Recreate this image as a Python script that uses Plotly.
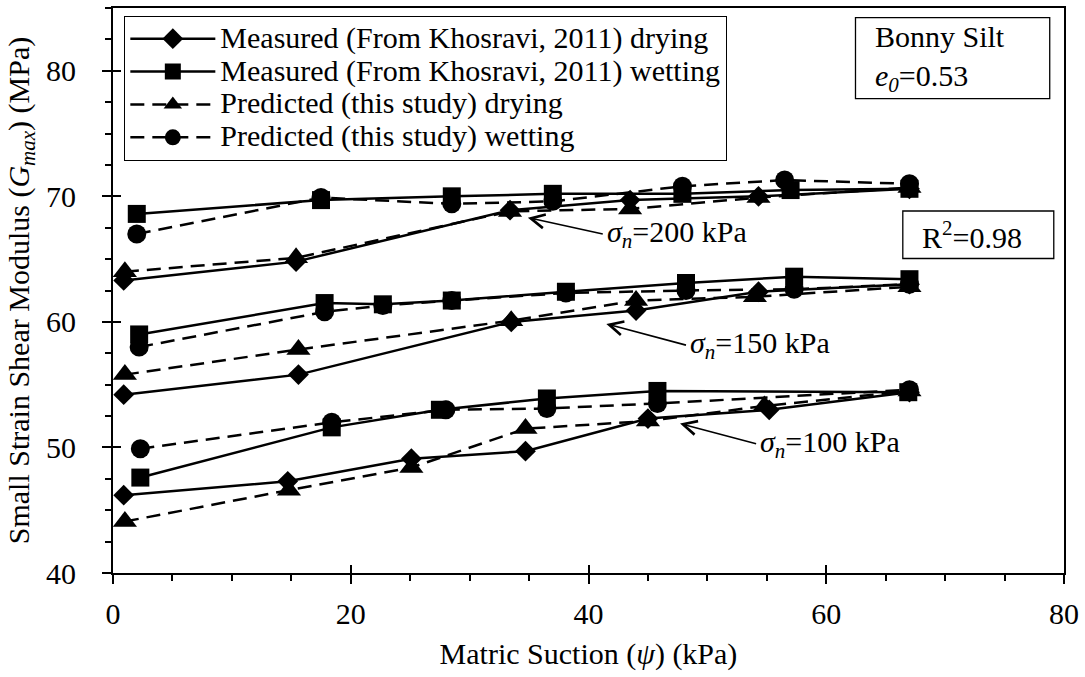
import plotly.graph_objects as go

# --- Bonny Silt, small strain shear modulus vs matric suction -----------------
# Stress levels (net normal stress, kPa)
stress_levels = [200, 150, 100]

# Measured (Khosravi, 2011) - drying
psi_md = {
    200: [0.9, 15.4, 33.4, 43.5, 54.3, 67.0],
    150: [0.9, 15.6, 33.5, 44.0, 54.3, 67.0],
    100: [0.9, 14.7, 25.1, 34.7, 45.0, 55.2, 67.0],
}
g_md = {
    200: [63.3, 64.8, 68.9, 69.7, 70.0, 70.6],
    150: [54.2, 55.8, 60.0, 60.9, 62.4, 63.0],
    100: [46.2, 47.3, 49.1, 49.7, 52.3, 53.0, 54.4],
}

# Measured (Khosravi, 2011) - wetting
psi_mw = {
    200: [2.0, 17.5, 28.5, 37.0, 47.9, 57.0, 67.0],
    150: [2.2, 17.8, 22.7, 28.5, 38.1, 48.2, 57.3, 67.0],
    100: [2.3, 18.4, 27.5, 36.5, 45.8, 66.9],
}
g_mw = {
    200: [68.6, 69.7, 70.0, 70.2, 70.2, 70.5, 70.6],
    150: [59.0, 61.5, 61.4, 61.7, 62.4, 63.1, 63.6, 63.4],
    100: [47.6, 51.6, 53.0, 53.9, 54.5, 54.4],
}

# Predicted (this study) - drying
psi_pd = {
    200: [1.0, 15.4, 33.4, 43.5, 54.3, 67.0],
    150: [1.0, 15.6, 33.5, 44.0, 54.0, 67.0],
    100: [1.0, 14.8, 25.1, 34.7, 45.0, 54.8, 67.0],
}
g_pd = {
    200: [64.0, 65.1, 68.8, 69.0, 69.9, 70.7],
    150: [55.8, 57.8, 60.1, 61.7, 62.0, 62.8],
    100: [44.1, 46.6, 48.4, 51.5, 52.1, 53.3, 54.5],
}

# Predicted (this study) - wetting
psi_pw = {
    200: [2.0, 17.5, 28.5, 37.0, 47.9, 56.5, 67.0],
    150: [2.2, 17.8, 22.7, 28.5, 38.1, 48.2, 57.3, 67.0],
    100: [2.3, 18.4, 28.0, 36.5, 45.8, 67.0],
}
g_pw = {
    200: [67.0, 69.9, 69.4, 69.6, 70.8, 71.3, 71.0],
    150: [58.0, 60.8, 61.3, 61.7, 62.3, 62.5, 62.6, 63.0],
    100: [49.9, 52.0, 53.0, 53.1, 53.5, 54.6],
}

series_names = [
    "Measured (From Khosravi, 2011) drying",
    "Measured (From Khosravi, 2011) wetting",
    "Predicted (this study) drying",
    "Predicted (this study) wetting",
]

x_ticks = [0, 20, 40, 60, 80]
y_ticks = [40, 50, 60, 70, 80]
r_squared = 0.98
void_ratio = 0.53

FONT = "Liberation Serif, Times New Roman, serif"
TXT = 30
LEGEND_TXT = 30   # glyph size of the legend labels
LEGEND_ROW = 23   # legend font size that sets the (tight) row pitch


def joined(xd, yd):
    """Concatenate the stress-level curves with gaps so each is a separate line."""
    xs, ys = [], []
    for s in stress_levels:
        if xs:
            xs.append(None)
            ys.append(None)
        xs.extend(xd[s])
        ys.extend(yd[s])
    return xs, ys


styles = [
    (psi_md, g_md, "diamond", 16, "solid"),
    (psi_mw, g_mw, "square", 18, "solid"),
    (psi_pd, g_pd, "triangle-up", 21, "14px,8px"),
    (psi_pw, g_pw, "circle", 19, "14px,8px"),
]

fig = go.Figure()
for name, (xd, yd, sym, size, dash) in zip(series_names, styles):
    xs, ys = joined(xd, yd)
    fig.add_trace(go.Scatter(
        x=xs, y=ys, mode="lines+markers",
        name=f'<span style="font-size:{LEGEND_TXT}px">{name}</span>',
        line=dict(color="black", width=2.5, dash=dash),
        marker=dict(symbol=sym, size=size, color="black"),
        connectgaps=False,
    ))

# empty trace that carries the overlay axes used for the inward half of the major ticks
fig.add_trace(go.Scatter(x=[None], y=[None], xaxis="x2", yaxis="y2",
                         showlegend=False, hoverinfo="skip"))

# stress-level labels with arrows (tip on curve, label to the right)
labels = [
    (200, 34.9, 68.3, 41.2, 67.0),
    (150, 41.5, 59.84, 48.2, 58.15),
    (100, 47.7, 51.9, 54.1, 50.3),
]
for s, xt, yt, xa, ya in labels:
    fig.add_annotation(
        x=xt, y=yt, ax=xa, ay=ya, axref="x", ayref="y",
        text=f"<i>σ</i><sub><i>n</i></sub>={s} kPa",
        xanchor="left", yanchor="middle", showarrow=True,
        arrowhead=5, arrowsize=1.7, arrowwidth=1.6, arrowcolor="black",
        standoff=0, borderpad=3,
        font=dict(family=FONT, size=TXT, color="black"),
    )

# material info box
fig.add_shape(type="rect", x0=62.46, x1=78.8, y0=77.78, y1=84.23,
              line=dict(color="black", width=1.3), fillcolor="white")
fig.add_annotation(x=63.9, y=80.95, xanchor="left", yanchor="middle", showarrow=False,
                   align="left",
                   text=f"Bonny Silt<br><i>e</i><sub><i>0</i></sub>={void_ratio}",
                   font=dict(family=FONT, size=TXT, color="black"))

# goodness-of-fit box
fig.add_shape(type="rect", x0=66.44, x1=79.14, y0=65.05, y1=68.83,
              line=dict(color="black", width=1.3), fillcolor="white")
fig.add_annotation(x=67.9, y=66.95, xanchor="left", yanchor="middle", showarrow=False,
                   text=f"R<sup>2</sup>={r_squared}",
                   font=dict(family=FONT, size=TXT, color="black"))

axis_common = dict(
    showgrid=False, zeroline=False, color="black",
    tickfont=dict(family=FONT, size=TXT, color="black"),
)

fig.update_layout(
    width=1085, height=677,
    margin=dict(l=113, r=21, t=6, b=104),
    paper_bgcolor="white", plot_bgcolor="white",
    font=dict(family=FONT, size=TXT, color="black"),
    xaxis=dict(
        **axis_common, range=[0, 80], tickvals=x_ticks,
        ticks="outside", ticklen=9, tickwidth=2, tickcolor="black",
        showline=True, linewidth=2, linecolor="black", mirror=True,
        ticklabelstandoff=4,
        minor=dict(ticks="outside", ticklen=6, tickwidth=1.5, dtick=5, tickcolor="black"),
        title=dict(text="Matric Suction (<i>ψ</i>) (kPa)", standoff=14,
                   font=dict(family=FONT, size=TXT, color="black")),
    ),
    yaxis=dict(
        **axis_common, range=[40, 85], tickvals=y_ticks,
        ticks="outside", ticklen=9, tickwidth=2, tickcolor="black",
        showline=True, linewidth=2, linecolor="black", mirror=True,
        ticklabelstandoff=20,
        minor=dict(ticks="outside", ticklen=6, tickwidth=1.5, dtick=2.5, tickcolor="black"),
        title=dict(text="Small Strain Shear Modulus (<i>G<sub>max</sub></i>) (MPa)",
                   standoff=8, font=dict(family=FONT, size=TXT, color="black")),
    ),
    xaxis2=dict(range=[0, 80], overlaying="x", anchor="y2", side="bottom",
                tickvals=x_ticks, ticks="inside", ticklen=8, tickwidth=2,
                tickcolor="black", showticklabels=False, showline=False,
                showgrid=False, zeroline=False),
    yaxis2=dict(range=[40, 85], overlaying="y", anchor="x2", side="left",
                tickvals=y_ticks, ticks="inside", ticklen=8, tickwidth=2,
                tickcolor="black", showticklabels=False, showline=False,
                showgrid=False, zeroline=False),
    legend=dict(
        x=0.0116, y=0.986, xanchor="left", yanchor="top",
        bgcolor="white", bordercolor="black", borderwidth=1.3,
        font=dict(family=FONT, size=LEGEND_ROW, color="black"),
        itemwidth=85, tracegroupgap=0,
    ),
    showlegend=True,
)

fig.write_html("out.html")
